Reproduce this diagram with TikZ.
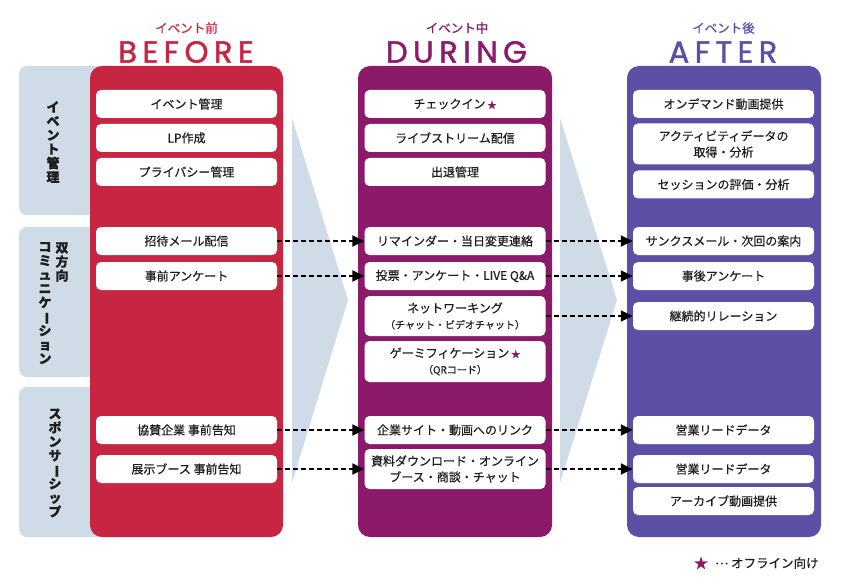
\documentclass[tikz,border=0pt]{standalone}
\usepackage{fontspec}
\setmainfont{Noto Sans CJK JP}[FakeBold=0.5]
\newfontfamily\headfont{Poppins}[LetterSpace=18, FakeBold=1.4]
\definecolor{beforered}{RGB}{199, 38, 66}
\definecolor{duringpurple}{RGB}{140, 26, 106}
\definecolor{afterviolet}{RGB}{91, 79, 166}
\definecolor{panelblue}{RGB}{207, 220, 232}
\definecolor{textdark}{RGB}{30, 30, 30}
\usetikzlibrary{arrows.meta,positioning}
\newcommand{\tatebar}{\rotatebox[origin=c]{-90}{ー}}
\newcommand{\offstar}{\textcolor{duringpurple}{\fontsize{9}{9}\selectfont ★}}

\begin{document}
\begin{tikzpicture}[x=1pt, y=-1pt,
    item/.style={fill=white, rounded corners=5pt, minimum width=181pt, minimum height=28pt,
        inner sep=0pt, align=center, text=textdark, font=\fontsize{12}{16}\selectfont},
    flow/.style={line width=1.8pt, dash pattern=on 5pt off 3pt, -{Triangle[length=12pt, width=11pt]}},
    sidelabel/.style={align=center, text=textdark, font=\bfseries\fontsize{13}{14}\selectfont},
    phasejp/.style={font=\fontsize{12.5}{14}\selectfont},
    phaseen/.style={font=\headfont\fontsize{30.5}{31}\selectfont}]
        \useasboundingbox (0, 0) rectangle (848, 580);

        % Chevrons between phases
        \fill[panelblue] (292, 118) -- (348, 300) -- (292, 483) -- cycle;
        \fill[panelblue] (560, 118) -- (617, 300) -- (560, 483) -- cycle;

        % Side panels
        \fill[panelblue, rounded corners=8pt] (19, 66) rectangle (120, 215);
        \fill[panelblue, rounded corners=8pt] (19, 227) rectangle (120, 377);
        \fill[panelblue, rounded corners=8pt] (19, 387) rectangle (120, 537);
        \node[sidelabel] (lblevent) at (53, 142) {イ\\ベ\\ン\\ト\\管\\理};
        \node[sidelabel] (lbltwoway) at (62, 262) {双\\方\\向};
        \node[sidelabel] (lblcomm) at (45, 303) {コ\\ミ\\ュ\\ニ\\ケ\\\tatebar\\シ\\ョ\\ン};
        \node[sidelabel] (lblsponsor) at (55, 463) {ス\\ポ\\ン\\サ\\\tatebar\\シ\\ッ\\プ};

        % Phase columns
        \draw[fill=beforered, draw=none, rounded corners=12pt] (90, 66) rectangle (283, 537);
        \draw[fill=duringpurple, draw=none, rounded corners=12pt] (358, 66) rectangle (552, 537);
        \draw[fill=afterviolet, draw=none, rounded corners=12pt] (627, 66) rectangle (821, 537);

        % Phase headers
        \node[phasejp, text=beforered] (beforejp) at (186.5, 28) {イベント前};
        \node[phaseen, text=beforered] (beforeen) at (186, 52) {BEFORE};
        \node[phasejp, text=duringpurple] (duringjp) at (457, 28) {イベント中};
        \node[phaseen, text=duringpurple] (duringen) at (456.5, 52) {DURING};
        \node[phasejp, text=afterviolet] (afterjp) at (723.5, 28) {イベント後};
        \node[phaseen, text=afterviolet] (afteren) at (723, 52) {AFTER};

        % Before items
        \node[item] (bmanage) at (186.5, 104) {イベント管理};
        \node[item] (blp) at (186.5, 138) {LP作成};
        \node[item] (bprivacy) at (186.5, 172) {プライバシー管理};
        \node[item] (binvite) at (186.5, 241) {招待メール配信};
        \node[item] (bsurvey) at (186.5, 276) {事前アンケート};
        \node[item] (bsponsor) at (186.5, 430) {協賛企業 事前告知};
        \node[item] (bbooth) at (186.5, 469) {展示ブース 事前告知};

        % During items
        \node[item] (dcheckin) at (455, 104) {チェックイン\,\offstar};
        \node[item] (dstream) at (455, 138) {ライブストリーム配信};
        \node[item] (dattend) at (455, 172) {出退管理};
        \node[item] (dremind) at (455, 241) {リマインダー・当日変更連絡};
        \node[item] (dvote) at (455, 276) {投票・アンケート・LIVE Q\&A};
        \node[item, minimum height=40pt] (dnetwork) at (455, 316) {ネットワーキング\\{\fontsize{10}{13}\selectfont（チャット・ビデオチャット）}};
        \node[item, minimum height=41pt] (dgame) at (455, 361.5) {ゲーミフィケーション\,\offstar\\{\fontsize{10}{13}\selectfont（QRコード）}};
        \node[item] (dlink) at (455, 430) {企業サイト・動画へのリンク};
        \node[item, minimum height=40pt] (ddocs) at (455, 469) {資料ダウンロード・オンライン\\ブース・商談・チャット};

        % After items
        \node[item] (aondemand) at (723.5, 104) {オンデマンド動画提供};
        \node[item, minimum height=41pt] (aactivity) at (723.5, 144) {アクティビティデータの\\取得・分析};
        \node[item] (asession) at (723.5, 184.5) {セッションの評価・分析};
        \node[item] (athanks) at (723.5, 241) {サンクスメール・次回の案内};
        \node[item] (asurvey) at (723.5, 276) {事後アンケート};
        \node[item] (arelation) at (723.5, 316) {継続的リレーション};
        \node[item] (alead) at (723.5, 430) {営業リードデータ};
        \node[item] (aleadtwo) at (723.5, 469) {営業リードデータ};
        \node[item] (aarchive) at (723.5, 501) {アーカイブ動画提供};

        % Flows
        \draw[flow] (binvite.east) -- (dremind.west);
        \draw[flow] (bsurvey.east) -- (dvote.west);
        \draw[flow] (bsponsor.east) -- (dlink.west);
        \draw[flow] (bbooth.east) -- (ddocs.west);
        \draw[flow] (dremind.east) -- (athanks.west);
        \draw[flow] (dvote.east) -- (asurvey.west);
        \draw[flow] (dnetwork.east) -- (arelation.west);
        \draw[flow] (dlink.east) -- (alead.west);
        \draw[flow] (ddocs.east) -- (aleadtwo.west);

        % Legend
        \node[text=duringpurple, font=\fontsize{14}{14}\selectfont] (legstar) at (701, 563) {★};
        \node[right=0pt of legstar, text=textdark, font=\fontsize{12.5}{14}\selectfont] (legtext) {\raisebox{3.5pt}{…} オフライン向け};
    \end{tikzpicture}
\end{document}
